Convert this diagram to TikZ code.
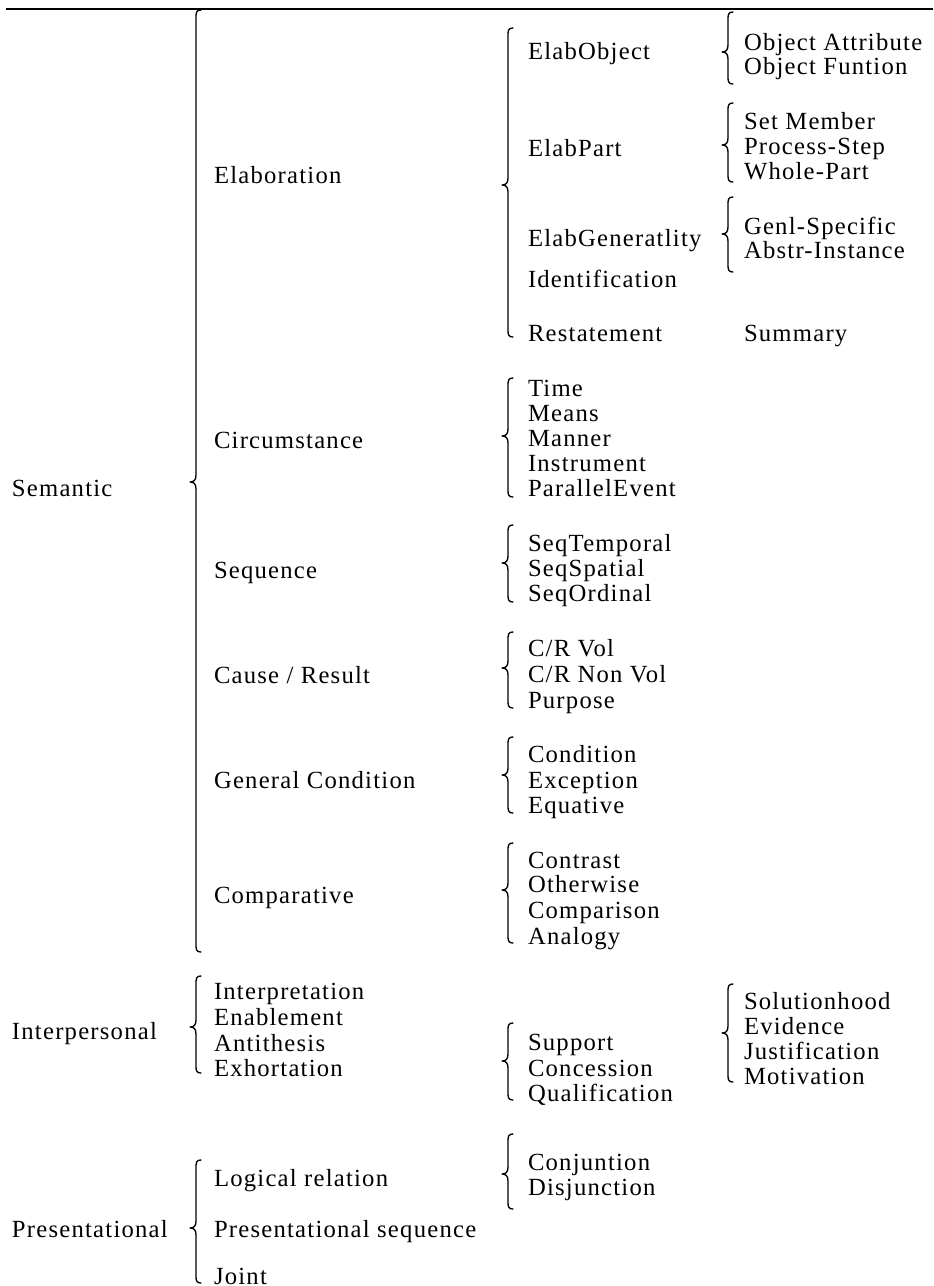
\documentclass[tikz,border=0pt]{standalone}
\usepackage{fontspec}
\setmainfont{Liberation Serif}[LetterSpace=5]
\tikzset{
  lbl/.style={anchor=base west, inner sep=0pt, outer sep=0pt, font=\fontsize{18.5}{21}\selectfont},
  brc/.style={line width=1pt, line cap=round, line join=round},
  rulestyle/.style={line width=1.5pt},
}
\newcommand{\cbrace}[4]{\draw[brc] ({#1+5},#2) .. controls ({#1+1},#2) and (#1,{#2+2}) .. (#1,{#2+6}) -- (#1,{#3-7}) .. controls (#1,{#3-2}) and ({#1-2},#3) .. ({#1-6},#3) .. controls ({#1-2},#3) and (#1,{#3+2}) .. (#1,{#3+7}) -- (#1,{#4-6}) .. controls (#1,{#4-2}) and ({#1+1},#4) .. ({#1+5},#4);}
\newcommand{\lab}[4]{\node[lbl] (#1) at (#2,{#3+6}) {#4};}
\begin{document}
\begin{tikzpicture}[x=0.75pt,y=-0.75pt]
\useasboundingbox (0,0) rectangle (933,1286);
\fill[white] (0,0) rectangle (933,1286);
\coordinate (rl) at (6,9);
\coordinate (rr) at (933,9);
\draw[rulestyle] (rl) -- (rr);
% level 1
\lab{sem}{12}{490}{Semantic}
\lab{inter}{12}{1033}{Interpersonal}
\lab{pres}{12}{1231}{Presentational}
% level 2
\lab{elab}{214}{177}{Elaboration}
\lab{circ}{214}{442}{Circumstance}
\lab{seq}{214}{572}{Sequence}
\lab{cause}{214}{677}{Cause / Result}
\lab{gencond}{214}{782}{General Condition}
\lab{comp}{214}{897}{Comparative}
\lab{interp}{214}{993}{Interpretation}
\lab{enab}{214}{1019}{Enablement}
\lab{anti}{214}{1045}{Antithesis}
\lab{exh}{214}{1070}{Exhortation}
\lab{logic}{214}{1180}{Logical relation}
\lab{pseq}{214}{1231}{Presentational sequence}
\lab{joint}{214}{1278}{Joint}
% level 3
\lab{elabobj}{528}{53}{ElabObject}
\lab{elabpart}{528}{150}{ElabPart}
\lab{elabgen}{528}{240}{ElabGeneratlity}
\lab{ident}{528}{281}{Identification}
\lab{restate}{528}{335}{Restatement}
\lab{time}{528}{390}{Time}
\lab{means}{528}{415}{Means}
\lab{manner}{528}{440}{Manner}
\lab{instr}{528}{465}{Instrument}
\lab{parallel}{528}{490}{ParallelEvent}
\lab{seqtemp}{528}{545}{SeqTemporal}
\lab{seqspat}{528}{570}{SeqSpatial}
\lab{seqord}{528}{595}{SeqOrdinal}
\lab{crvol}{528}{650}{C/R Vol}
\lab{crnon}{528}{676}{C/R Non Vol}
\lab{purpose}{528}{702}{Purpose}
\lab{cond}{528}{756}{Condition}
\lab{exc}{528}{782}{Exception}
\lab{equ}{528}{807}{Equative}
\lab{contrast}{528}{862}{Contrast}
\lab{otherwise}{528}{886}{Otherwise}
\lab{comparison}{528}{912}{Comparison}
\lab{analogy}{528}{938}{Analogy}
\lab{support}{528}{1044}{Support}
\lab{concession}{528}{1070}{Concession}
\lab{qualif}{528}{1095}{Qualification}
\lab{conj}{528}{1164}{Conjuntion}
\lab{disj}{528}{1189}{Disjunction}
% level 4
\lab{objattr}{744}{44}{Object Attribute}
\lab{objfun}{744}{68}{Object Funtion}
\lab{setm}{744}{123}{Set Member}
\lab{procstep}{744}{148}{Process-Step}
\lab{wholepart}{744}{173}{Whole-Part}
\lab{genl}{744}{228}{Genl-Specific}
\lab{abstr}{744}{252}{Abstr-Instance}
\lab{summary}{744}{335}{Summary}
\lab{solution}{744}{1003}{Solutionhood}
\lab{evidence}{744}{1028}{Evidence}
\lab{justif}{744}{1053}{Justification}
\lab{motiv}{744}{1078}{Motivation}
% braces
\cbrace{196}{10}{482}{952}
\cbrace{508}{28}{185}{337}
\cbrace{728}{12}{52}{84}
\cbrace{728}{103}{145}{182}
\cbrace{728}{197}{234}{272}
\cbrace{508}{378}{436}{497}
\cbrace{508}{525}{563}{602}
\cbrace{508}{632}{668}{708}
\cbrace{508}{737}{775}{813}
\cbrace{508}{843}{890}{943}
\cbrace{196}{976}{1027}{1073}
\cbrace{508}{1023}{1061}{1100}
\cbrace{728}{984}{1033}{1082}
\cbrace{196}{1160}{1228}{1283}
\cbrace{508}{1134}{1174}{1209}
\end{tikzpicture}
\end{document}
